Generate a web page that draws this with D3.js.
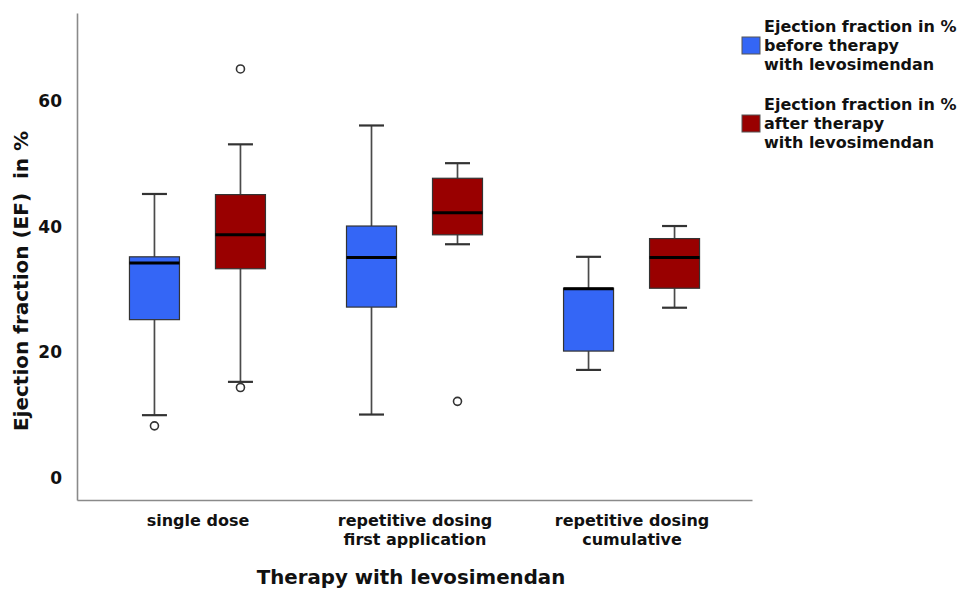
<!DOCTYPE html>
<html>
<head>
<meta charset="utf-8">
<script src="https://cdn.jsdelivr.net/npm/d3@7/dist/d3.min.js"></script>
<style>
  body { margin: 0; background: #fff; }
  text { font-family: "DejaVu Sans", Verdana, sans-serif; font-weight: bold; fill: #111; }
</style>
</head>
<body>
<div id="chart-area"></div>
<script>
// data
var categories = ["single dose", "rep first", "rep cumulative"];
var categoryLabels = [["single dose"], ["repetitive dosing", "first application"], ["repetitive dosing", "cumulative"]];
var seriesNames = ["before", "after"];
var seriesColors = ["#3466f6", "#990000"];
var legendLabels = [
	["Ejection fraction in %", "before therapy", "with levosimendan"],
	["Ejection fraction in %", "after therapy", "with levosimendan"]
];

// [min, q1, median, q3, max]
var beforeStats = [
	[10, 25.2, 34.2, 35.2, 45.2],
	[10.1, 27.2, 35.1, 40.1, 56.1],
	[17.2, 20.2, 30.1, 30.2, 35.2]
];
var afterStats = [
	[15.3, 33.3, 38.7, 45.1, 53.1],
	[37.2, 38.7, 42.2, 47.7, 50.1],
	[27.1, 30.2, 35.1, 38.1, 40.1]
];
var beforeOutliers = [[8.3], [], []];
var afterOutliers = [[65.1, 14.4], [12.2], []];

var yTicks = [0, 20, 40, 60];

var width = 971, height = 589;
var svg = d3.select("#chart-area").append("svg")
	.attr("width", width)
	.attr("height", height);

var x = d3.scalePoint()
	.domain(categories)
	.range([77, 752])
	.padding(0.555);

var y = d3.scaleLinear()
	.domain([-3.5, 74])
	.range([500, 13]);

var offset = 43;
var boxW = 50;
var capW = 25;

// axes
var yAxisGroup = svg.append("g")
	.attr("transform", "translate(77,0)")
	.call(d3.axisLeft(y).tickValues(yTicks).tickSize(0).tickPadding(15));
yAxisGroup.select(".domain").attr("stroke", "#8a8a8a").attr("stroke-width", 1.6);
yAxisGroup.selectAll("text")
	.attr("font-size", "17px")
	.style("font-family", "DejaVu Sans, sans-serif")
	.style("font-weight", "bold")
	.attr("fill", "#111");

var xAxisGroup = svg.append("g")
	.attr("transform", "translate(0,500)")
	.call(d3.axisBottom(x).tickSize(0).tickPadding(14).tickFormat(""));
xAxisGroup.select(".domain").attr("stroke", "#8a8a8a").attr("stroke-width", 1.6);
xAxisGroup.selectAll(".tick text").remove();
xAxisGroup.selectAll(".tick").each(function (d, i) {
	var t = d3.select(this).append("text")
		.attr("text-anchor", "middle")
		.attr("font-size", "16px")
		.attr("y", 26);
	categoryLabels[i].forEach(function (line, j) {
		t.append("tspan").attr("x", 0).attr("dy", j === 0 ? 0 : 18.5).text(line);
	});
});

// axis titles
svg.append("text")
	.attr("x", 411)
	.attr("y", 584)
	.attr("text-anchor", "middle")
	.attr("font-size", "19.8px")
	.text("Therapy with levosimendan");

svg.append("text")
	.attr("transform", "translate(28,281) rotate(-90)")
	.attr("text-anchor", "middle")
	.attr("font-size", "20px")
	.text("Ejection fraction (EF)  in %")
	.attr("xml:space", "preserve")
	.style("white-space", "pre");

// boxes
function drawSeries(stats, outliers, color, dx) {
	var g = svg.append("g");
	stats.forEach(function (s, i) {
		var cx = x(categories[i]) + dx;
		// whiskers
		g.append("line").attr("x1", cx).attr("x2", cx).attr("y1", y(s[4])).attr("y2", y(s[3]))
			.attr("stroke", "#4a4a4a").attr("stroke-width", 1.7);
		g.append("line").attr("x1", cx).attr("x2", cx).attr("y1", y(s[1])).attr("y2", y(s[0]))
			.attr("stroke", "#4a4a4a").attr("stroke-width", 1.7);
		[s[0], s[4]].forEach(function (v) {
			g.append("line").attr("x1", cx - capW / 2).attr("x2", cx + capW / 2)
				.attr("y1", y(v)).attr("y2", y(v))
				.attr("stroke", "#333").attr("stroke-width", 2.2);
		});
		g.append("rect")
			.attr("x", cx - boxW / 2)
			.attr("y", y(s[3]))
			.attr("width", boxW)
			.attr("height", y(s[1]) - y(s[3]))
			.attr("fill", color)
			.attr("stroke", "#333")
			.attr("stroke-width", 1.2);
		g.append("line").attr("x1", cx - boxW / 2).attr("x2", cx + boxW / 2)
			.attr("y1", y(s[2])).attr("y2", y(s[2]))
			.attr("stroke", "#000").attr("stroke-width", 3);
		outliers[i].forEach(function (v) {
			g.append("circle").attr("cx", cx).attr("cy", y(v)).attr("r", 4)
				.attr("fill", "#fff").attr("stroke", "#333").attr("stroke-width", 1.6);
		});
	});
}

drawSeries(beforeStats, beforeOutliers, seriesColors[0], -offset);
drawSeries(afterStats, afterOutliers, seriesColors[1], offset);

// legend
var legend = svg.append("g");
seriesNames.forEach(function (name, i) {
	var top = 20 + i * 78;
	legend.append("rect")
		.attr("x", 742).attr("y", top + 17)
		.attr("width", 18).attr("height", 17)
		.attr("fill", seriesColors[i])
		.attr("stroke", "#555").attr("stroke-width", 1);
	var t = legend.append("text").attr("x", 764).attr("y", top + 12).attr("font-size", "16px");
	legendLabels[i].forEach(function (line, j) {
		t.append("tspan").attr("x", 764).attr("dy", j === 0 ? 0 : 19).text(line);
	});
});
</script>
</body>
</html>
